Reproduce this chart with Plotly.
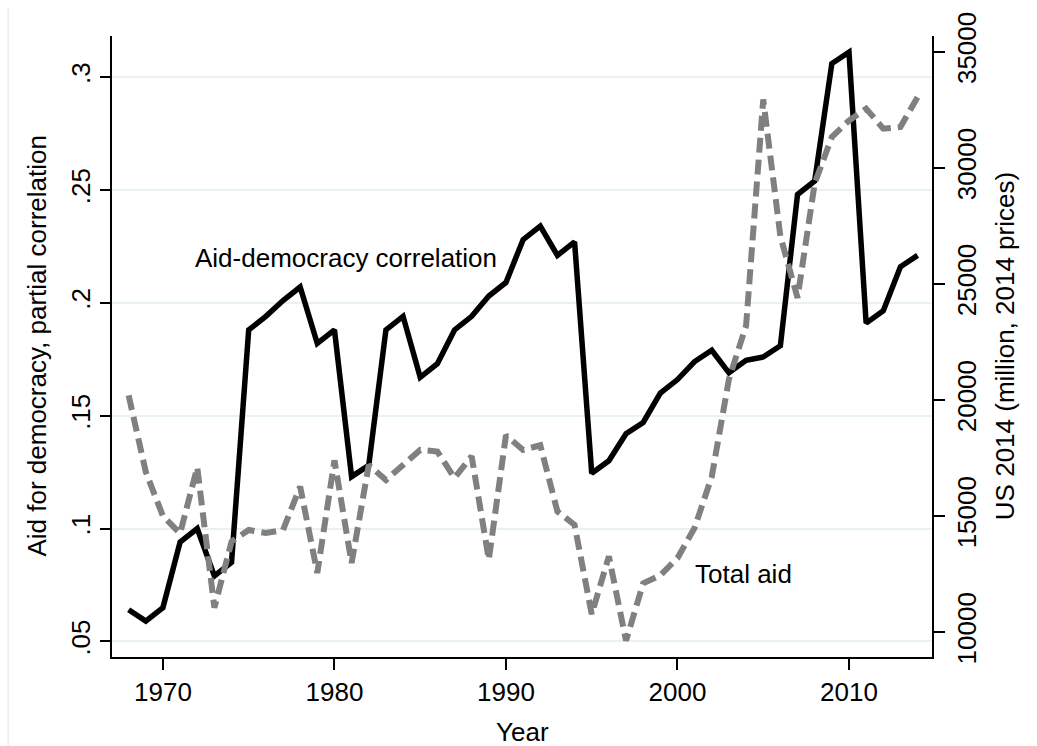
import plotly.graph_objects as go

years = list(range(1968, 2015))

corr = [0.064, 0.059, 0.065, 0.094, 0.100, 0.079, 0.085, 0.188, 0.194, 0.201,
        0.207, 0.182, 0.188, 0.123, 0.128, 0.188, 0.194, 0.167, 0.173, 0.188,
        0.194, 0.203, 0.209, 0.228, 0.234, 0.221, 0.227, 0.1245, 0.130, 0.142,
        0.147, 0.160, 0.166, 0.174, 0.179, 0.169, 0.1745, 0.176, 0.181, 0.248,
        0.254, 0.306, 0.311, 0.191, 0.1965, 0.216, 0.221]

total_aid = [20200, 16900, 15000, 14250, 17100, 11050, 13900, 14400, 14270, 14400,
             16270, 12550, 17400, 12980, 17200, 16550, 17200, 17850, 17780, 16640,
             17580, 13130, 18480, 17850, 18050, 15200, 14620, 10770, 13270, 9630,
             12100, 12450, 13190, 14500, 16700, 20900, 23200, 32950, 27050, 24400,
             29330, 31330, 32040, 32550, 31690, 31760, 33050]

x_ticks = [1970, 1980, 1990, 2000, 2010]
left_ticks = [0.05, 0.1, 0.15, 0.2, 0.25, 0.3]
left_labels = [".05", ".1", ".15", ".2", ".25", ".3"]
right_ticks = [10000, 15000, 20000, 25000, 30000, 35000]
right_labels = ["10000", "15000", "20000", "25000", "30000", "35000"]

FONT = "Liberation Sans, Arial, sans-serif"
FS = 26

fig = go.Figure()
fig.add_trace(go.Scatter(x=years, y=corr, mode="lines",
                         line=dict(color="black", width=5.5),
                         yaxis="y", showlegend=False))
fig.add_trace(go.Scatter(x=years, y=total_aid, mode="lines",
                         line=dict(color="#808080", width=6, dash="15px,7px"),
                         yaxis="y2", showlegend=False))

fig.update_layout(
    width=1037, height=746,
    margin=dict(l=112, r=105, t=32, b=89, pad=0),
    paper_bgcolor="white", plot_bgcolor="white",
    font=dict(family=FONT, size=FS, color="black"),
    xaxis=dict(range=[1967.03, 2014.84], tickvals=x_ticks,
               ticks="outside", ticklen=11, tickwidth=1.5, tickcolor="black",
               showline=True, linecolor="black", linewidth=1.5,
               showgrid=False, zeroline=False,
               tickfont=dict(size=FS, family=FONT, color="black")),
    yaxis=dict(range=[0.0431, 0.3182], tickvals=left_ticks, ticktext=left_labels,
               tickangle=-90,
               ticks="outside", ticklen=10, tickwidth=1.5, tickcolor="black",
               showline=True, linecolor="black", linewidth=1.5,
               showgrid=True, gridcolor="#e8f1f3", gridwidth=2, zeroline=False,
               tickfont=dict(size=FS, family=FONT, color="black")),
    yaxis2=dict(range=[8929, 35680], tickvals=right_ticks, ticktext=right_labels,
                overlaying="y", side="right", tickangle=-90,
                ticks="outside", ticklen=11, tickwidth=1.5, tickcolor="black",
                showline=True, linecolor="black", linewidth=1.5,
                showgrid=False, zeroline=False,
                tickfont=dict(size=FS, family=FONT, color="black")),
)

fig.add_annotation(text="Aid for democracy, partial correlation", textangle=-90,
                   xref="paper", yref="paper", x=-0.0926, y=0.5,
                   xanchor="center", yanchor="middle", showarrow=False,
                   font=dict(size=FS, family=FONT, color="black"))
fig.add_annotation(text="US 2014 (million, 2014 prices)", textangle=-90,
                   xref="paper", yref="paper", x=1.0886, y=0.5,
                   xanchor="center", yanchor="middle", showarrow=False,
                   font=dict(size=FS, family=FONT, color="black"))
fig.add_annotation(text="Year", xref="paper", yref="paper", x=0.5, y=-0.1205,
                   xanchor="center", yanchor="middle", showarrow=False,
                   font=dict(size=FS, family=FONT, color="black"))
fig.add_annotation(text="Aid-democracy correlation", xref="x", yref="y",
                   x=1971.75, y=0.22, xanchor="left", yanchor="middle",
                   showarrow=False, font=dict(size=FS, family=FONT, color="black"))
fig.add_annotation(text="Total aid", xref="x", yref="y",
                   x=2000.9, y=0.0797, xanchor="left", yanchor="middle",
                   showarrow=False, font=dict(size=FS, family=FONT, color="black"))

fig.add_shape(type="line", xref="paper", yref="paper",
              x0=-0.1267, x1=-0.1267, y0=-0.15, y1=1.045,
              line=dict(color="#e8eff1", width=1.5), layer="below")

fig.write_html("out.html")
